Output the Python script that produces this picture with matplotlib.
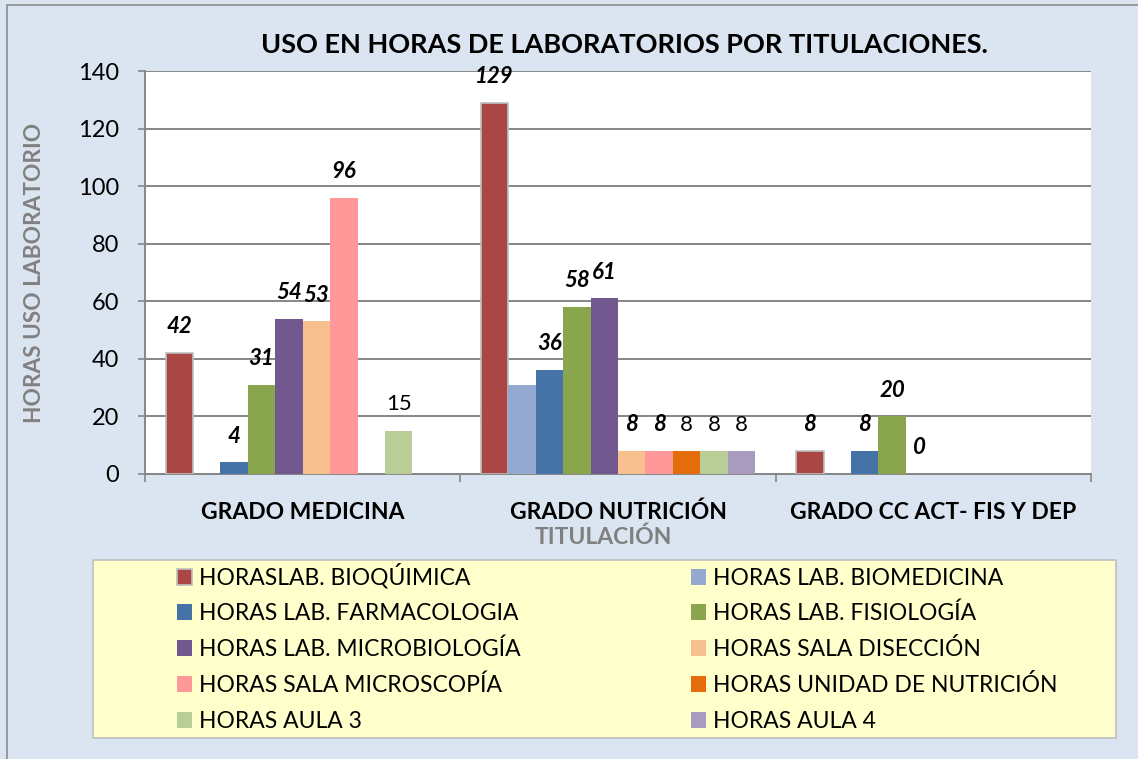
import matplotlib
matplotlib.use("Agg")
import matplotlib.pyplot as plt
import numpy as np
from matplotlib.patches import Rectangle, Patch

plt.rcParams['font.family'] = ['Lato', 'DejaVu Sans']

# ---------------- data ----------------
categories = ["GRADO MEDICINA", "GRADO NUTRICIÓN", "GRADO CC ACT- FIS Y DEP"]
series_names = ["HORASLAB. BIOQÚIMICA", "HORAS LAB. BIOMEDICINA",
                "HORAS LAB. FARMACOLOGIA", "HORAS LAB. FISIOLOGÍA",
                "HORAS LAB. MICROBIOLOGÍA", "HORAS SALA DISECCIÓN",
                "HORAS SALA MICROSCOPÍA", "HORAS UNIDAD DE NUTRICIÓN",
                "HORAS AULA 3", "HORAS AULA 4"]
nan = np.nan
bioquimica = [42, 129, 8]
biomedicina = [nan, 31, nan]
farmacologia = [4, 36, 8]
fisiologia = [31, 58, 20]
microbiologia = [54, 61, 0]
diseccion = [53, 8, nan]
microscopia = [96, 8, nan]
unidad_nutricion = [nan, 8, nan]
aula3 = [15, 8, nan]
aula4 = [nan, 8, nan]
series_values = [bioquimica, biomedicina, farmacologia, fisiologia, microbiologia,
                 diseccion, microscopia, unidad_nutricion, aula3, aula4]
# data label style per point: 'b' bold italic, 'n' normal, '' none
label_styles = [['b', 'b', 'b'], ['', '', ''], ['b', 'b', 'b'], ['b', 'b', 'b'],
                ['b', 'b', 'b'], ['b', 'b', ''], ['b', 'b', ''], ['', 'n', ''],
                ['n', 'n', ''], ['', 'n', '']]
yticks = [0, 20, 40, 60, 80, 100, 120, 140]

colors = ['#AA4643', '#93A9CF', '#4572A7', '#89A54E', '#71588F',
          '#F9C08F', '#FF9999', '#E46C0A', '#B9CD96', '#A99BBD']
edgecolors = ['#BFBFBF'] + ['none'] * 9

W, H = 1138, 759
fig = plt.figure(figsize=(W / 100, H / 100), dpi=100)
fig.patch.set_facecolor('#DBE5F1')
# outer frame (top/left visible)
fig.patches.append(Rectangle((7 / W, -0.05), 1.2, 1 - 5 / H + 0.05, transform=fig.transFigure,
                             facecolor='none', edgecolor='#8C8C8C', lw=1.2))

ax = fig.add_axes([145 / W, 1 - 474 / H, (1091 - 145) / W, (474 - 71) / H])
ax.set_facecolor('white')

n = len(series_values)
w = 1 / (n + 1.5)
x = np.arange(len(categories))
for i, (vals, name) in enumerate(zip(series_values, series_names)):
    pos = x + (i - (n - 1) / 2) * w
    ax.bar(pos, vals, width=w, color=colors[i], edgecolor=edgecolors[i],
           linewidth=1.2, label=name, zorder=3)
    for xp, v, st in zip(pos, vals, label_styles[i]):
        if st == '' or np.isnan(v):
            continue
        kw = dict(fontweight='bold', fontstyle='italic') if st == 'b' else {}
        ax.annotate(f"{v:g}", (xp, v), xytext=(0, 19), textcoords='offset points',
                    ha='center', va='center', fontsize=16, annotation_clip=False,
                    zorder=5, **kw)

ax.set_xlim(-0.5, len(categories) - 0.5)
ax.set_ylim(0, 140)
ax.set_yticks(yticks)
ax.grid(axis='y', color='#868686', lw=1.4, zorder=0)
ax.set_axisbelow(True)
for s in ['top', 'right']:
    ax.spines[s].set_visible(False)
for s in ['left', 'bottom']:
    ax.spines[s].set_color('#868686')
    ax.spines[s].set_linewidth(1.4)
ax.tick_params(axis='y', length=5, width=1.2, color='#868686', pad=13.5, labelsize=17)
ax.set_xticks(x)
ax.set_xticklabels(categories, fontweight='bold', fontsize=16.5)
ax.set_xticks(np.arange(len(categories) + 1) - 0.5, minor=True)
ax.tick_params(axis='x', which='major', length=0, pad=20)
ax.tick_params(axis='x', which='minor', length=6, width=1.2, color='#868686')

ax.set_ylabel("HORAS USO LABORATORIO", fontweight='bold', fontsize=16.3, color='#808080')
ax.yaxis.set_label_coords((35 - 145) / (1091 - 145), 0.5)
ax.yaxis.label.set_va('center')
fig.text(603 / W, 1 - 537 / H, "TITULACIÓN", ha='center', va='center',
         fontweight='bold', fontsize=16.5, color='#808080')
fig.text(624 / W, 1 - 45 / H, "USO EN HORAS DE LABORATORIOS POR TITULACIONES.",
         ha='center', va='center', fontweight='bold', fontsize=19.5)

# legend box
fig.patches.append(Rectangle((93 / W, 1 - 738 / H), (1116 - 93) / W, (738 - 560) / H,
                             transform=fig.transFigure, facecolor='#FFFFCC',
                             edgecolor='#BFBFBF', lw=1.2, zorder=1))
common = dict(frameon=False, loc='lower left', borderaxespad=0, borderpad=0,
              handlelength=0.65, handleheight=0.65, handletextpad=0.3,
              fontsize=16.5)
col_x = [177, 691]
row_y = [577, 612, 648, 684, 720]
for i in range(n):
    h = Patch(facecolor=colors[i], edgecolor=('#BFBFBF' if i == 0 else 'none'), lw=1.2)
    cx = col_x[i % 2]
    cy = row_y[i // 2] + 12
    fig.legend([h], [series_names[i]], bbox_to_anchor=(cx / W, 1 - cy / H), **common)

fig.savefig("out.png", dpi=100, facecolor=fig.get_facecolor())
